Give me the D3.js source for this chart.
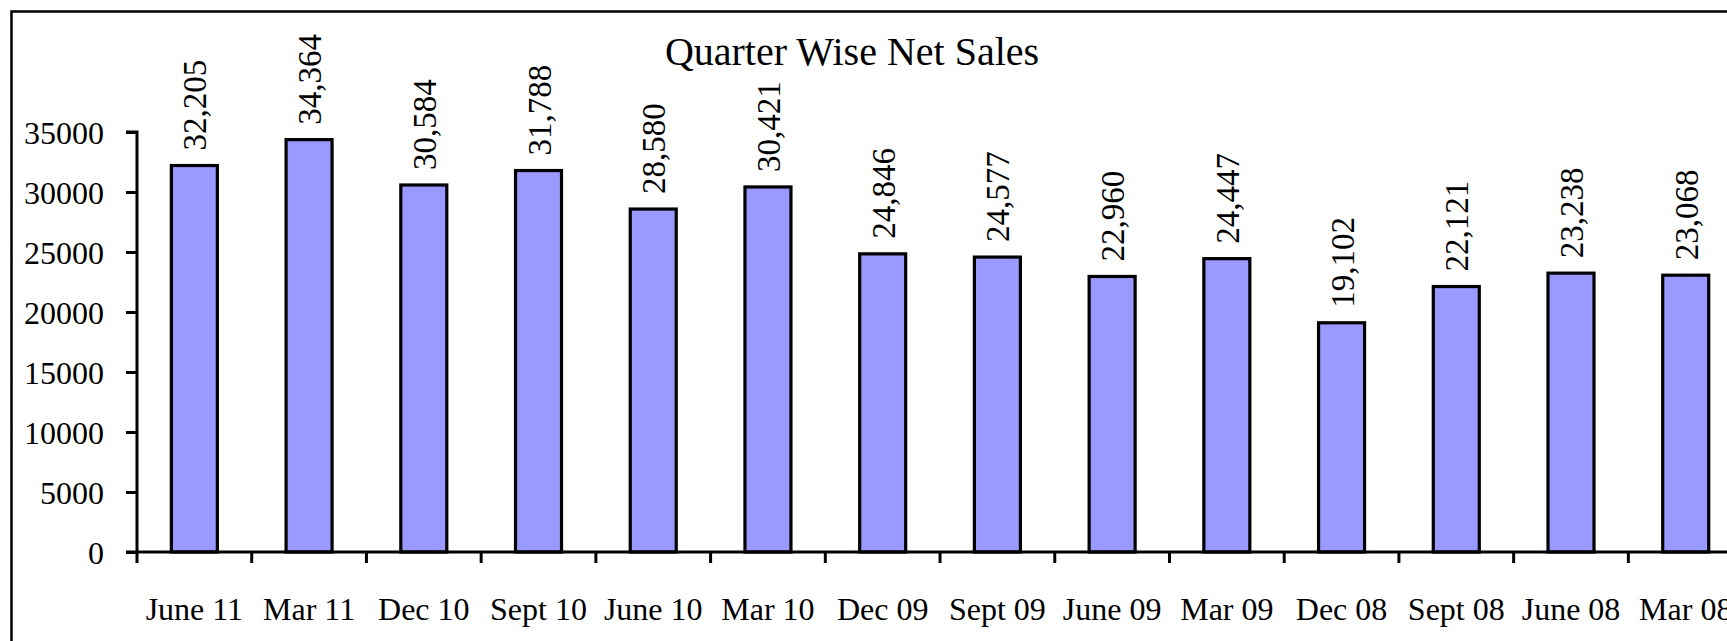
<!DOCTYPE html>
<html><head><meta charset="utf-8">
<script src="https://cdn.jsdelivr.net/npm/d3@7"></script>
<style>html,body{margin:0;padding:0;background:#fff;overflow:hidden} svg text{font-family:'Liberation Serif','DejaVu Serif',serif;fill:#000}</style>
</head><body>
<svg id="c" width="1727" height="641"></svg>
<script>
const categories = ["June 11","Mar 11","Dec 10","Sept 10","June 10","Mar 10","Dec 09","Sept 09","June 09","Mar 09","Dec 08","Sept 08","June 08","Mar 08"];
const values = [32205,34364,30584,31788,28580,30421,24846,24577,22960,24447,19102,22121,23238,23068];
const yTicks = [0,5000,10000,15000,20000,25000,30000,35000];
const title = "Quarter Wise Net Sales";

const svg = d3.select("#c");
svg.append("rect").attr("x",11.5).attr("y",11.5).attr("width",1800).attr("height",700)
  .attr("fill","#fff").attr("stroke","#000").attr("stroke-width",2.5);

const x0 = 137, band = 114.72;
const x = d3.scaleBand().domain(categories).range([x0, x0 + band*categories.length]).padding(0);
const y = d3.scaleLinear().domain([0,35000]).range([552,132]);

// bars
const bw = 46;
svg.selectAll("rect.bar").data(values).enter().append("rect").attr("class","bar")
  .attr("x",(d,i)=>x(categories[i])+x.bandwidth()/2-bw/2)
  .attr("y",d=>y(d)).attr("width",bw).attr("height",d=>y(0)-y(d))
  .attr("fill","#9999FF").attr("stroke","#000").attr("stroke-width",3.2);

// y axis
const ya = svg.append("g").attr("transform",`translate(${x0},0)`)
  .call(d3.axisLeft(y).tickValues(yTicks).tickSize(11).tickPadding(10).tickFormat(d3.format("d")));
ya.attr("font-family",null).attr("font-size",null);
ya.select(".domain").attr("stroke-width",3).attr("d",`M-11,${y(35000)}H0V${y(0)}`);
ya.selectAll(".tick line").attr("stroke-width",3);
ya.selectAll(".tick text").style("font-size","32px").attr("dy","0.36em").attr("x",-33);

// x axis
const xa = svg.append("g").attr("transform",`translate(0,${y(0)})`);
xa.append("line").attr("x1",x0-11).attr("x2",1727).attr("y1",0).attr("y2",0).attr("stroke","#000").attr("stroke-width",3);
const tickXs = d3.range(categories.length+1).map(i=>x0+i*x.step());
xa.selectAll("line.t").data(tickXs).enter().append("line").attr("class","t")
  .attr("x1",d=>d).attr("x2",d=>d).attr("y1",0).attr("y2",11).attr("stroke","#000").attr("stroke-width",3);
xa.selectAll("text.cat").data(categories).enter().append("text").attr("class","cat")
  .attr("x",d=>x(d)+x.bandwidth()/2).attr("y",620-y(0)).attr("text-anchor","middle")
  .style("font-size","32px").text(d=>d);

// value labels
const fmt = d3.format(",");
svg.selectAll("text.val").data(values).enter().append("text").attr("class","val")
  .attr("transform",(d,i)=>`translate(${x(categories[i])+x.bandwidth()/2+12},${y(d)-15}) rotate(-90)`)
  .attr("text-anchor","start").style("font-size","33px")
  .text(d=>fmt(d));

// title
svg.append("text").attr("x",852).attr("y",65).attr("text-anchor","middle")
  .style("font-size","40px").text(title);
</script>
</body></html>
